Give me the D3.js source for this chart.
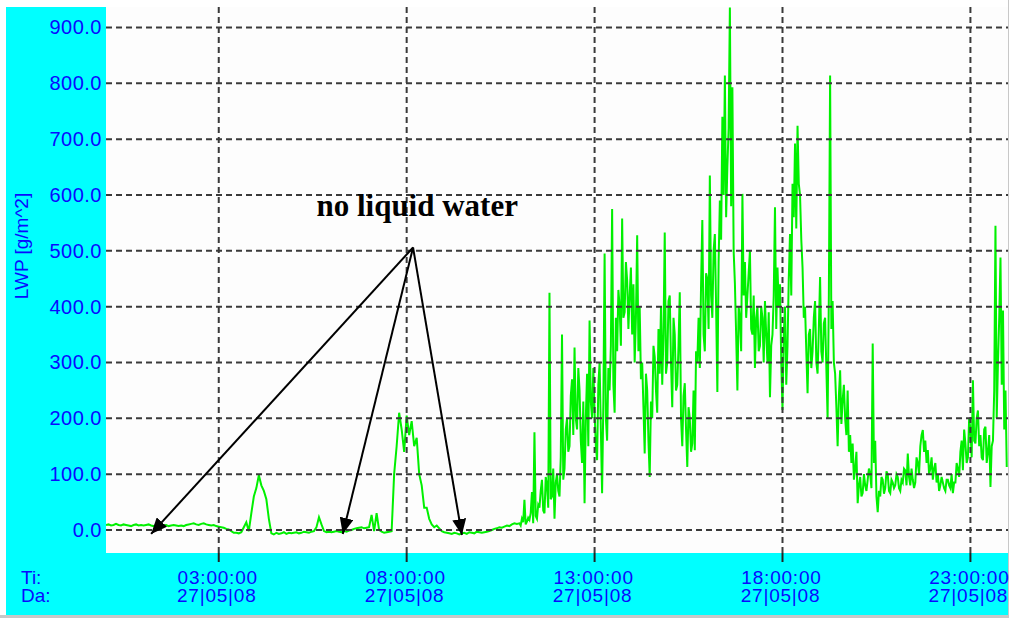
<!DOCTYPE html>
<html>
<head>
<meta charset="utf-8">
<script src="https://cdn.jsdelivr.net/npm/d3@7"></script>
<style>
  body { margin: 0; background: #fff; }
  svg { display: block; }
</style>
</head>
<body>
<svg id="chart"></svg>
<script>
// LWP record, 27 May 2008
// quiet part 00h-11h: one value every 4 minutes (15 per hour)
const quietStep = 4;
const lwpQuiet = [
  // 00h
  9, 10, 8, 9, 11, 9, 8, 10, 9, 8, 7, 9, 10, 8, 9,
  // 01h
  8, 9, 10, 8, 7, 9, 8, 6, 8, 9, 7, 8, 9, 8, 7,
  // 02h
  8, 7, 9, 10, 11, 12, 10, 9, 11, 12, 10, 9, 8, 9, 7,
  // 03h
  6, 5, 4, 2, 1, -2, -5, -5, -6, -4, 5, 14, -2, 30, 60,
  // 04h
  75, 98, 80, 70, 55, 20, -6, -8, -5, -7, -6, -4, -7, -5, -6,
  // 05h
  -5, -4, -6, -5, -3, -4, -5, -3, -2, 5, 23, 10, -2, -4, -3,
  // 06h
  -4, -3, -2, -3, -4, -2, -3, -1, 0, 2, 3, 4, 5, 3, 4,
  // 07h
  5, 27, -2, 30, 0, -3, -5, -4, -3, -2, 100, 150, 210, 180, 140,
  // 08h
  205, 170, 195, 150, 165, 100, 80, 40, 40, 20, 10, 5, 8, 3, -2,
  // 09h
  -4, -5, -6, -7, -5, -6, -8, -6, -5, -7, -4, -5, -6, -3, -4,
  // 10h
  -5, -4, -3, -2, 0, 2, 3, 5, 4, 6, 8, 7, 10, 12, 11
];

// cloudy part 11h-24h: one value every 2 minutes (30 per hour)
const activeStep = 2;
const activeStart = 11;
const lwpActive = [
  // 11h
  12, 8, 20, 14, 54, 10, 15, 22, 18, 30, 68, 12, 175, 25, 20, 45, 40, 70, 90, 35, 30, 95, 80, 40, 425, 55, 60, 110, 20, 85,
  // 12h
  100, 70, 60, 130, 350, 90, 110, 180, 200, 140, 150, 240, 270, 170, 327, 200, 180, 290, 250, 160, 120, 230, 48, 200, 280, 150, 375, 230, 200, 290,
  // 13h
  210, 150, 125, 260, 300, 180, 66, 230, 495, 200, 160, 290, 250, 330, 575, 260, 210, 380, 320, 430, 400, 330, 558, 380, 390, 480, 447, 360, 420, 470,
  // 14h
  350, 440, 300, 380, 528, 320, 400, 270, 300, 220, 137, 280, 250, 160, 95, 230, 200, 330, 310, 250, 210, 360, 280, 400, 260, 350, 533, 280, 300, 410,
  // 15h
  420, 300, 220, 380, 350, 250, 260, 330, 426, 200, 150, 240, 263, 180, 113, 220, 200, 140, 155, 250, 143, 320, 300, 380, 290, 440, 555, 350, 320, 460,
  // 16h
  450, 360, 635, 420, 380, 500, 530, 400, 247, 480, 590, 520, 740, 600, 814, 560, 650, 720, 936, 580, 793, 500, 442, 350, 250, 400, 380, 320, 602, 420,
  // 17h
  480, 380, 420, 460, 500, 360, 350, 420, 290, 380, 400, 320, 330, 400, 380, 300, 410, 350, 300, 390, 238, 330, 350, 420, 578, 360, 470, 400, 440, 300,
  // 18h
  215, 350, 400, 260, 330, 450, 530, 420, 620, 560, 692, 540, 724, 620, 600, 520, 470, 380, 400, 320, 245, 350, 360, 290, 320, 380, 410, 300, 280, 360,
  // 19h
  453, 320, 300, 370, 380, 290, 200, 420, 814, 360, 410, 300, 280, 220, 150, 240, 286, 190, 232, 260, 200, 170, 250, 140, 170, 120, 155, 90, 110, 140,
  // 20h
  48, 80, 95, 60, 66, 100, 80, 70, 90, 110, 100, 75, 334, 120, 160, 60, 32, 70, 60, 95, 90, 65, 75, 105, 100, 70, 66, 90, 85, 75,
  // 21h
  80, 100, 95, 75, 70, 90, 85, 110, 107, 80, 137, 95, 80, 110, 90, 75, 85, 130, 120, 100, 150, 170, 179, 140, 160, 120, 143, 100, 110, 130,
  // 22h
  90, 110, 120, 85, 100, 70, 80, 95, 85, 75, 70, 90, 90, 80, 75, 100, 66, 85, 85, 120, 110, 95, 140, 160, 107, 180, 155, 120, 130, 200,
  // 23h
  180, 130, 268, 160, 155, 200, 214, 150, 170, 130, 125, 180, 185, 120, 140, 170, 77, 150, 160, 250, 545, 200, 300, 380, 488, 260, 393, 180, 250, 113
];

const yTicks = [0, 100, 200, 300, 400, 500, 600, 700, 800, 900];
const tickHours = [3, 8, 13, 18, 23];

// annotation: label and arrow tips, in (hour, value)
const noteText = "no liquid water";
const noteLabel = [8.28, 563];
const noteFrom = [8.17, 506];
const noteTips = [[1.2, -7], [6.3, -7], [9.47, -9]];

const width = 1009, height = 618;
const plot = { left: 106, top: 7, right: 1008, bottom: 553 };
const blue = "#0a0aff";
const gridColor = "#3a3a3a";
const sans = "'Liberation Sans', Arial, sans-serif";

const day = new Date(2008, 4, 27);
const atHour = h => new Date(day.getTime() + h * 3600 * 1000);

// one series of [hour, value] built from the two sampling rates
const series = lwpQuiet.map((v, i) => [i * quietStep / 60, v])
  .concat(lwpActive.map((v, i) => [activeStart + i * activeStep / 60, v]));

const x = d3.scaleTime()
  .domain([atHour(0), atHour(24)])
  .range([plot.left, plot.right]);

const y = d3.scaleLinear()
  .domain([0, 900])
  .range([530, 27.5]);

const svg = d3.select("#chart")
  .attr("width", width)
  .attr("height", height)
  .style("font-family", sans);

// panels
svg.append("rect")
  .attr("x", 6).attr("y", plot.top)
  .attr("width", plot.right - 6).attr("height", 615 - plot.top)
  .attr("fill", "#00ffff");
svg.append("rect")
  .attr("x", plot.left).attr("y", plot.top)
  .attr("width", plot.right - plot.left).attr("height", plot.bottom - plot.top)
  .attr("fill", "#fdfdfd");
svg.append("rect")
  .attr("x", 0).attr("y", 615).attr("width", width).attr("height", 3)
  .attr("fill", "#c8c8c8");
svg.append("rect")
  .attr("x", plot.right).attr("y", 0).attr("width", 1).attr("height", height)
  .attr("fill", "#c8c8c8");

svg.append("clipPath").attr("id", "plotclip")
  .append("rect")
  .attr("x", plot.left).attr("y", plot.top)
  .attr("width", plot.right - plot.left).attr("height", plot.bottom - plot.top);

// data line
const line = d3.line()
  .x(d => x(atHour(d[0])))
  .y(d => y(d[1]));

svg.append("path")
  .datum(series)
  .attr("clip-path", "url(#plotclip)")
  .attr("fill", "none")
  .attr("stroke", "#00f000")
  .attr("stroke-width", 2)
  .attr("d", line);

// grid (drawn on top of the data, like the original)
const grid = svg.append("g")
  .attr("stroke", gridColor)
  .attr("stroke-width", 2)
  .attr("stroke-dasharray", "6,4");

grid.selectAll(".hgrid")
  .data(yTicks)
  .join("line")
  .attr("x1", plot.left).attr("x2", plot.right)
  .attr("y1", d => y(d)).attr("y2", d => y(d));

grid.selectAll(".vgrid")
  .data(tickHours)
  .join("line")
  .attr("x1", d => x(atHour(d))).attr("x2", d => x(atHour(d)))
  .attr("y1", plot.top).attr("y2", plot.bottom);

// little ticks hanging into the bottom panel
svg.append("g").selectAll("line")
  .data(tickHours)
  .join("line")
  .attr("x1", d => x(atHour(d))).attr("x2", d => x(atHour(d)))
  .attr("y1", plot.bottom).attr("y2", plot.bottom + 9)
  .attr("stroke", "#222")
  .attr("stroke-width", 2);

// y axis labels
const yAxis = svg.append("g")
  .attr("transform", `translate(${plot.left},0)`)
  .call(d3.axisLeft(y).tickValues(yTicks).tickFormat(d3.format(".1f")).tickSize(0).tickPadding(4));
yAxis.select(".domain").remove();
yAxis.selectAll("text")
  .attr("fill", blue)
  .style("font-size", "20px")
  .style("letter-spacing", "0.5px")
  .style("font-family", sans);

svg.append("text")
  .attr("transform", `translate(28,246) rotate(-90)`)
  .attr("text-anchor", "middle")
  .attr("fill", blue)
  .style("font-size", "19px")
  .text("LWP [g/m^2]");

// x axis labels, time and date
const fmtTime = d3.timeFormat("%H:%M:%S");
const fmtDate = d3.timeFormat("%d|%m|%y");

svg.append("text").attr("x", 21).attr("y", 584)
  .attr("fill", blue).style("font-size", "19px").text("Ti:");
svg.append("text").attr("x", 21).attr("y", 602)
  .attr("fill", blue).style("font-size", "19px").text("Da:");

const xl = svg.append("g")
  .attr("fill", blue)
  .attr("text-anchor", "middle")
  .style("font-size", "19px")
  .style("letter-spacing", "0.8px");

xl.selectAll(".t")
  .data(tickHours)
  .join("text")
  .attr("x", d => x(atHour(d)) - 1)
  .attr("y", 584)
  .text(d => fmtTime(atHour(d)));

xl.selectAll(".d")
  .data(tickHours)
  .join("text")
  .attr("x", d => x(atHour(d)) - 2)
  .attr("y", 602)
  .text(d => fmtDate(atHour(d)));

// annotation
svg.append("defs").append("marker")
  .attr("id", "head")
  .attr("viewBox", "0 0 16 14")
  .attr("refX", 16).attr("refY", 7)
  .attr("markerWidth", 16).attr("markerHeight", 14)
  .attr("markerUnits", "userSpaceOnUse")
  .attr("orient", "auto")
  .append("path")
  .attr("d", "M0,0L16,7L0,14Z")
  .attr("fill", "#000");

svg.append("g").selectAll("line")
  .data(noteTips)
  .join("line")
  .attr("x1", x(atHour(noteFrom[0]))).attr("y1", y(noteFrom[1]))
  .attr("x2", d => x(atHour(d[0]))).attr("y2", d => y(d[1]))
  .attr("stroke", "#000")
  .attr("stroke-width", 2)
  .attr("marker-end", "url(#head)");

svg.append("text")
  .attr("x", x(atHour(noteLabel[0])))
  .attr("y", y(noteLabel[1]))
  .attr("text-anchor", "middle")
  .style("font-family", "'Liberation Serif', 'Times New Roman', serif")
  .style("font-weight", "bold")
  .style("font-size", "31px")
  .text(noteText);
</script>
</body>
</html>
